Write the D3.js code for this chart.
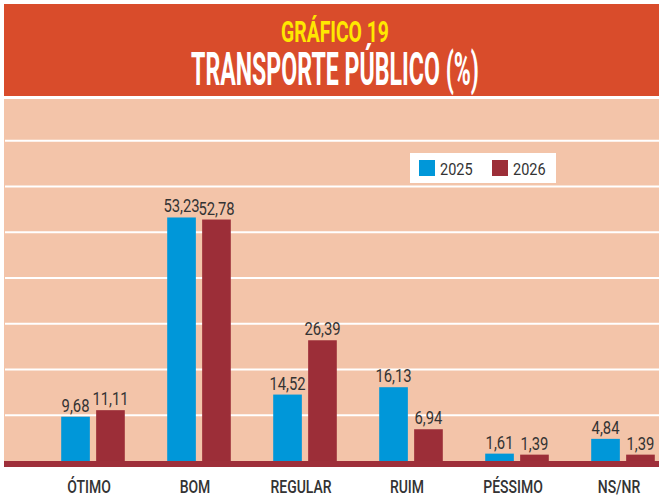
<!DOCTYPE html>
<html>
<head>
<meta charset="utf-8">
<script src="https://cdn.jsdelivr.net/npm/d3@7"></script>
<style>
  body { margin: 0; background: #fff; }
  svg { display: block; }
  text { font-family: Roboto, "Liberation Sans", sans-serif; }
</style>
</head>
<body>
<div id="chart"></div>
<script>
var categories = ["ÓTIMO", "BOM", "REGULAR", "RUIM", "PÉSSIMO", "NS/NR"];
var series = ["2025", "2026"];
var values2025 = [9.68, 53.23, 14.52, 16.13, 1.61, 4.84];
var values2026 = [11.11, 52.78, 26.39, 6.94, 1.39, 1.39];
var gridTicks = [10, 20, 30, 40, 50, 60, 70];

var W = 659, H = 504;
var blue = "#0097d9", maroon = "#9c2e38";

var svg = d3.select("#chart").append("svg")
    .attr("width", W)
    .attr("height", H);

// condensed look: squeeze text horizontally
function squeeze(x, y, s) {
  return "translate(" + x + "," + y + ") scale(" + s + ",1)";
}

// header
svg.append("rect")
    .attr("x", 4).attr("y", 4)
    .attr("width", W - 4).attr("height", 92)
    .style("fill", "#d94c2b");

function fitTitle(txt, cx, cy, size, width, color) {
  var t = svg.append("text")
      .attr("text-anchor", "middle")
      .style("font-size", size + "px")
      .style("font-weight", "bold")
      .style("fill", color)
      .text(txt);
  var w = t.node().getComputedTextLength();
  t.attr("transform", squeeze(cx, cy, width / w));
}
fitTitle("GRÁFICO 19", 335, 42, 29.5, 108, "#ffe800");
fitTitle("TRANSPORTE PÚBLICO (%)", 335, 85, 46, 288, "#ffffff");

// plot area
var y0 = 461;
var y = d3.scaleLinear().domain([0, 80]).range([y0, 95]);

var x = d3.scaleBand()
    .domain(categories)
    .range([40, 676])
    .paddingInner(0.4)
    .paddingOuter(0.2);

var x1 = d3.scaleBand()
    .domain(series)
    .range([0, x.bandwidth()])
    .paddingInner(0.18);

svg.append("rect")
    .attr("x", 4).attr("y", 99)
    .attr("width", W - 4).attr("height", y0 - 99)
    .style("fill", "#f3c4a9");

svg.append("g").selectAll("line")
    .data(gridTicks)
    .enter().append("line")
    .attr("x1", 5).attr("x2", W)
    .attr("y1", function (d) { return y(d); })
    .attr("y2", function (d) { return y(d); })
    .style("stroke", "#ffffff")
    .style("stroke-width", 2);

var rows = categories.map(function (c, i) {
  return { cat: c, vals: [
    { s: "2025", v: values2025[i], color: blue },
    { s: "2026", v: values2026[i], color: maroon }
  ] };
});

var groups = svg.append("g").selectAll("g")
    .data(rows)
    .enter().append("g")
    .attr("transform", function (d) { return "translate(" + x(d.cat) + ",0)"; });

groups.selectAll("rect")
    .data(function (d) { return d.vals; })
    .enter().append("rect")
    .attr("x", function (d) { return x1(d.s); })
    .attr("y", function (d) { return y(d.v); })
    .attr("width", x1.bandwidth())
    .attr("height", function (d) { return y0 - y(d.v); })
    .style("fill", function (d) { return d.color; });

groups.selectAll("text")
    .data(function (d) { return d.vals; })
    .enter().append("text")
    .attr("transform", function (d) {
      return squeeze(x1(d.s) + x1.bandwidth() / 2, y(d.v) - 5, 0.8);
    })
    .attr("text-anchor", "middle")
    .style("font-size", "18.5px")
    .style("fill", "#333")
    .text(function (d) { return d3.format(".2f")(d.v).replace(".", ","); });

// baseline band
svg.append("rect")
    .attr("x", 4).attr("y", y0)
    .attr("width", W - 4).attr("height", 6)
    .style("fill", "#9e2f3a");

// category labels
svg.append("g").selectAll("text")
    .data(categories)
    .enter().append("text")
    .attr("transform", function (d) { return squeeze(x(d) + x.bandwidth() / 2 - 4, 493, 0.8); })
    .attr("text-anchor", "middle")
    .style("font-size", "17.5px")
    .style("font-weight", "500")
    .style("fill", "#333")
    .text(function (d) { return d; });

// legend
var legend = svg.append("g").attr("transform", "translate(410,153)");
legend.append("rect")
    .attr("width", 146).attr("height", 30)
    .style("fill", "#fff");

var items = legend.selectAll("g")
    .data(series)
    .enter().append("g")
    .attr("transform", function (d, i) { return "translate(" + (9 + i * 73) + ",7)"; });

items.append("rect")
    .attr("width", 16).attr("height", 16)
    .style("fill", function (d, i) { return i === 0 ? blue : maroon; });

items.append("text")
    .attr("transform", squeeze(21, 14.5, 0.88))
    .style("font-size", "16.5px")
    .style("fill", "#333")
    .text(function (d) { return d; });
</script>
</body>
</html>
